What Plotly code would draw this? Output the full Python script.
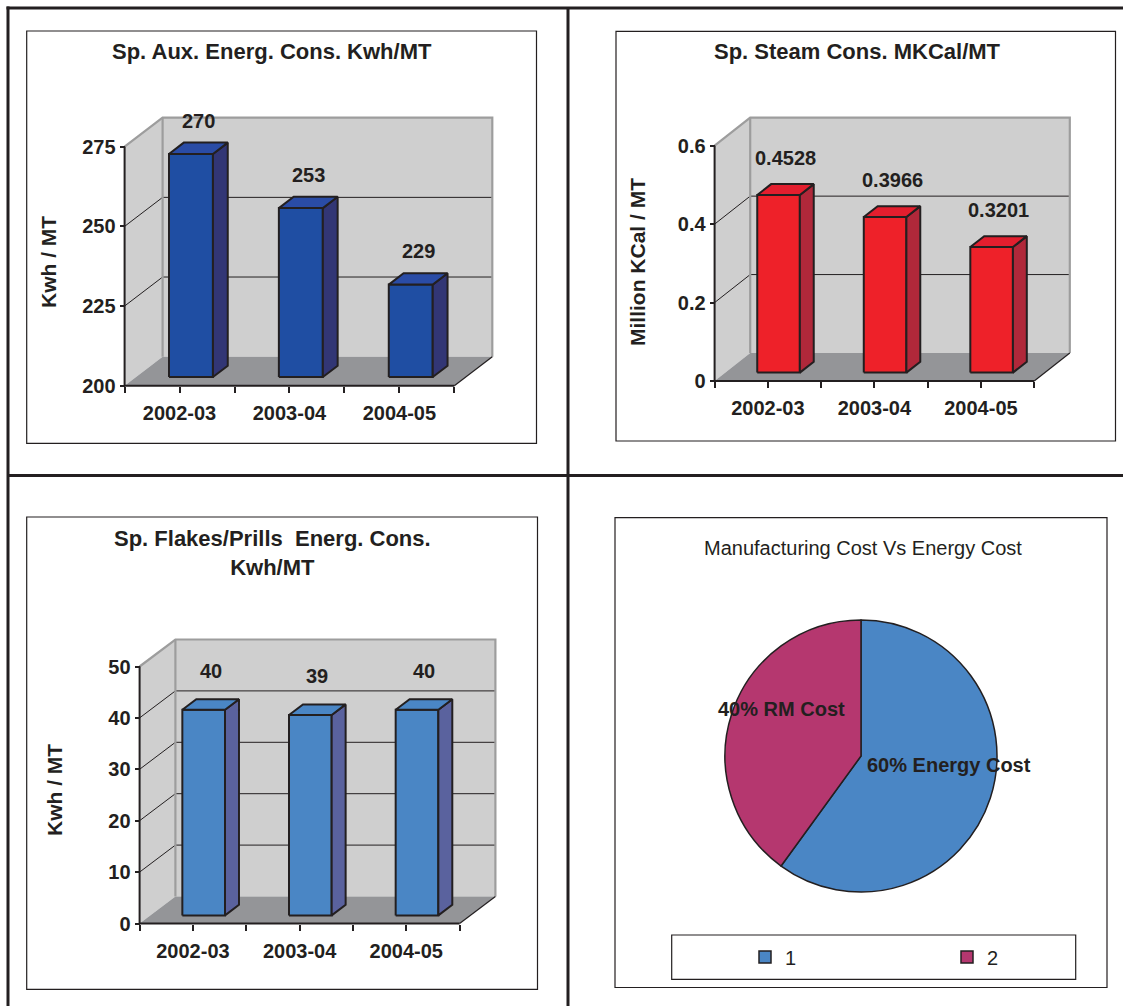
import plotly.graph_objects as go

# ---------------- data ----------------
years = ["2002-03", "2003-04", "2004-05"]
aux_energy = [270, 253, 229]            # Kwh / MT
steam_cons = [0.4528, 0.3966, 0.3201]   # Million KCal / MT
flakes_energy = [40, 39, 40]            # Kwh / MT

aux_ticks = [200, 225, 250, 275]
steam_ticks = [0, 0.2, 0.4, 0.6]
steam_tick_text = ["0", "0.2", "0.4", "0.6"]
flakes_ticks = [0, 10, 20, 30, 40, 50]

cost_share = [60, 40]
cost_names = ["Energy Cost", "RM Cost"]
cost_keys = ["1", "2"]

# ---------------- page / style ----------------
W, H = 1123, 1006
FONT = "Liberation Sans, Arial, Helvetica, sans-serif"
INK = "#231F20"
WALL = "#CFCFCF"
WALL_EDGE = "#9D9D9D"
FLOOR = "#949598"


def fx(px):
    return px / W


def fy(py):
    return 1 - py / H


fig = go.Figure()
shapes = []
annotations = []
layout_axes = {}


def poly_trace(xs, ys, xa, ya, fill=None, line_color=None, line_width=0):
    kw = dict(x=xs, y=ys, xaxis=xa, yaxis=ya, mode="lines",
              hoverinfo="skip", showlegend=False)
    if fill:
        kw.update(fill="toself", fillcolor=fill)
    kw["line"] = dict(color=line_color or "rgba(0,0,0,0)", width=line_width)
    return go.Scatter(**kw)


def add_bar_panel(idx, values, ticks, ticktext, labels, geom, colors, label_shift):
    """Pseudo-3D column chart: walls, floor, gridlines and prism bars."""
    suffix = "" if idx == 1 else str(idx)
    xa, ya = "x" + suffix, "y" + suffix
    x0, x1, ybot, ytop, dpx, dpy = geom
    n = len(values)
    ymin, ymax = ticks[0], ticks[-1]
    ppc = (x1 - x0) / n
    ppu = (ybot - ytop) / (ymax - ymin)
    ddx, ddy = dpx / ppc, dpy / ppu
    pad = 6
    xl, xr = -0.5, n - 0.5

    layout_axes["xaxis" + suffix] = dict(
        domain=[fx(x0 - pad), fx(x1 + dpx + pad)],
        range=[xl - pad / ppc, xr + ddx + pad / ppc],
        anchor="free", position=fy(ybot),
        tickmode="array", tickvals=list(range(n)), ticktext=years,
        ticks="outside", ticklen=6, tickwidth=1.5, tickcolor=INK,
        minor=dict(tickmode="array", tickvals=[i - 0.5 for i in range(n + 1)],
                   ticks="outside", ticklen=6, tickwidth=1.5, tickcolor=INK),
        ticklabelstandoff=3,
        tickfont=dict(family=FONT, size=20, color=INK, weight="bold"),
        showgrid=False, zeroline=False, showline=False, fixedrange=True,
    )
    layout_axes["yaxis" + suffix] = dict(
        domain=[fy(ybot + pad), fy(ytop - dpy - pad)],
        range=[ymin - pad / ppu, ymax + ddy + pad / ppu],
        anchor="free", position=fx(x0),
        tickmode="array", tickvals=ticks, ticktext=ticktext,
        ticks="outside", ticklen=5, tickwidth=1.5, tickcolor=INK,
        tickfont=dict(family=FONT, size=20, color=INK, weight="bold"),
        showgrid=False, zeroline=False, showline=False, fixedrange=True,
    )

    # back wall
    fig.add_trace(poly_trace(
        [xl + ddx, xr + ddx, xr + ddx, xl + ddx, xl + ddx],
        [ymin + ddy, ymin + ddy, ymax + ddy, ymax + ddy, ymin + ddy],
        xa, ya, fill=WALL))
    # side wall
    fig.add_trace(poly_trace(
        [xl, xl, xl + ddx, xl + ddx, xl],
        [ymin, ymax, ymax + ddy, ymin + ddy, ymin],
        xa, ya, fill=WALL))
    # floor
    fig.add_trace(poly_trace(
        [xl, xr, xr + ddx, xl + ddx, xl],
        [ymin, ymin, ymin + ddy, ymin + ddy, ymin],
        xa, ya, fill=FLOOR))
    # gridlines on side and back walls
    gx, gy = [], []
    for t in ticks[1:-1]:
        gx += [xl, xl + ddx, xr + ddx, None]
        gy += [t, t + ddy, t + ddy, None]
    fig.add_trace(poly_trace(gx, gy, xa, ya, line_color=INK, line_width=1))
    # wall edges
    fig.add_trace(poly_trace(
        [xl, xl + ddx, xr + ddx, xr + ddx, None, xl + ddx, xl + ddx],
        [ymax, ymax + ddy, ymax + ddy, ymin + ddy, None, ymin + ddy, ymax + ddy],
        xa, ya, line_color=WALL_EDGE, line_width=2.2))
    # floor right edge
    fig.add_trace(poly_trace([xr, xr + ddx], [ymin, ymin + ddy], xa, ya,
                             line_color=INK, line_width=1.2))

    # prism bars
    w, f0, f1 = 0.4, 0.3, 0.69
    k = f1 - f0
    front_x, front_y, side_x, side_y, top_x, top_y = [], [], [], [], [], []
    for i, v in enumerate(values):
        a = i - w / 2 + f0 * ddx
        b = i + w / 2 + f0 * ddx
        yb = ymin + f0 * ddy
        yt = v + f0 * ddy
        front_x += [a, b, b, a, a, None]
        front_y += [yb, yb, yt, yt, yb, None]
        side_x += [b, b + k * ddx, b + k * ddx, b, b, None]
        side_y += [yb, yb + k * ddy, yt + k * ddy, yt, yb, None]
        top_x += [a, b, b + k * ddx, a + k * ddx, a, None]
        top_y += [yt, yt, yt + k * ddy, yt + k * ddy, yt, None]
        annotations.append(dict(
            x=i + (f0 + f1) / 2 * ddx, y=v + f1 * ddy, xref=xa, yref=ya,
            text=labels[i], showarrow=False, xanchor="center", yanchor="middle",
            yshift=label_shift,
            font=dict(family=FONT, size=20, color=INK, weight="bold")))
    fig.add_trace(poly_trace(front_x, front_y, xa, ya, fill=colors[0],
                             line_color=INK, line_width=2))
    fig.add_trace(poly_trace(side_x, side_y, xa, ya, fill=colors[1],
                             line_color=INK, line_width=2))
    fig.add_trace(poly_trace(top_x, top_y, xa, ya, fill=colors[2],
                             line_color=INK, line_width=2))

    # front axis lines
    fig.add_trace(poly_trace([xl, xl, xr], [ymax, ymin, ymin], xa, ya,
                             line_color=INK, line_width=2))


add_bar_panel(1, aux_energy, aux_ticks, [str(t) for t in aux_ticks],
              [str(v) for v in aux_energy],
              (124.6, 454.3, 385.7, 146.7, 38.0, 29.0),
              ("#1F4EA3", "#323675", "#2A4CA6"), 22)
add_bar_panel(2, steam_cons, steam_ticks, steam_tick_text,
              [f"{v:.4f}" for v in steam_cons],
              (714.6, 1034.2, 381.0, 145.7, 35.6, 28.0),
              ("#EE2129", "#B0283A", "#E31E2E"), 26)
add_bar_panel(3, flakes_energy, flakes_ticks, [str(t) for t in flakes_ticks],
              [str(v) for v in flakes_energy],
              (139.6, 459.6, 923.5, 666.5, 35.8, 27.0),
              ("#4A86C5", "#5A629E", "#4A86C5"), 28)

# ---------------- pie ----------------
pc_x, pc_y, pr = 861.0, 756.0, 136.0
fig.add_trace(go.Pie(
    values=cost_share, labels=cost_keys, sort=False, direction="clockwise",
    rotation=0, textinfo="none", hoverinfo="label+percent",
    marker=dict(colors=["#4A86C5", "#B5376F"], line=dict(color=INK, width=1.5)),
    domain=dict(x=[fx(pc_x - pr), fx(pc_x + pr)], y=[fy(pc_y + pr), fy(pc_y - pr)]),
    showlegend=True,
))
pie_label_font = dict(family=FONT, size=20, color=INK, weight="bold")
annotations.append(dict(
    x=fx(781.6), y=fy(709), xref="paper", yref="paper",
    xanchor="center", yanchor="middle",
    text=f"{cost_share[1]}% {cost_names[1]}", showarrow=False, font=pie_label_font))
annotations.append(dict(
    x=fx(948.5), y=fy(765), xref="paper", yref="paper",
    xanchor="center", yanchor="middle",
    text=f"{cost_share[0]}% {cost_names[0]}", showarrow=False, font=pie_label_font))

# ---------------- titles ----------------
title_font = dict(family=FONT, size=22, color=INK, weight="bold")
axis_font = dict(family=FONT, size=21, color=INK, weight="bold")
for text, x, y in [
    ("Sp. Aux. Energ. Cons. Kwh/MT", 272, 52),
    ("Sp. Steam Cons. MKCal/MT", 857, 52),
    ("Sp. Flakes/Prills  Energ. Cons.<br>Kwh/MT", 272, 553),
]:
    annotations.append(dict(x=fx(x), y=fy(y), xref="paper", yref="paper",
                            xanchor="center", yanchor="middle",
                            text=text, showarrow=False, font=title_font))
annotations.append(dict(x=fx(863), y=fy(548), xref="paper", yref="paper",
                        xanchor="center", yanchor="middle",
                        text="Manufacturing Cost Vs Energy Cost", showarrow=False,
                        font=dict(family=FONT, size=20, color=INK)))
for text, x, y in [("Kwh / MT", 48, 262), ("Million KCal / MT", 637, 262),
                   ("Kwh / MT", 54, 790)]:
    annotations.append(dict(x=fx(x), y=fy(y), xref="paper", yref="paper",
                            xanchor="center", yanchor="middle",
                            text=text, textangle=-90, showarrow=False,
                            font=axis_font))


# ---------------- frames ----------------
def rect(x0, y0, x1, y1, width=1.2, color=INK):
    shapes.append(dict(type="rect", xref="paper", yref="paper",
                       x0=fx(x0), x1=fx(x1), y0=fy(y1), y1=fy(y0),
                       line=dict(color=color, width=width), layer="above"))


def seg(x0, y0, x1, y1, width=3, color=INK):
    shapes.append(dict(type="line", xref="paper", yref="paper",
                       x0=fx(x0), x1=fx(x1), y0=fy(y0), y1=fy(y1),
                       line=dict(color=color, width=width), layer="above"))


rect(26.7, 31, 536.5, 443.3)
rect(616, 31.3, 1115.5, 441)
rect(26.7, 517, 537.5, 989.3)
rect(615, 517.7, 1107, 987.5)
rect(671.7, 935, 1075.7, 979.3)   # legend box

seg(6.5, 8, 1123, 8)
seg(8, 6.5, 8, 1006)
seg(568, 8, 568, 1006)
seg(8, 475.5, 1123, 475.5)

fig.update_layout(
    width=W, height=H, autosize=False,
    margin=dict(l=0, r=0, t=0, b=0, autoexpand=False),
    paper_bgcolor="white", plot_bgcolor="rgba(0,0,0,0)",
    shapes=shapes, annotations=annotations,
    legend=dict(orientation="h", x=fx(745), xanchor="left",
                y=fy(957), yanchor="middle",
                entrywidth=157, entrywidthmode="pixels",
                font=dict(family=FONT, size=20, color=INK),
                bgcolor="rgba(0,0,0,0)", borderwidth=0, itemclick=False,
                itemdoubleclick=False, traceorder="normal"),
    **layout_axes,
)

fig.write_html("out.html")
